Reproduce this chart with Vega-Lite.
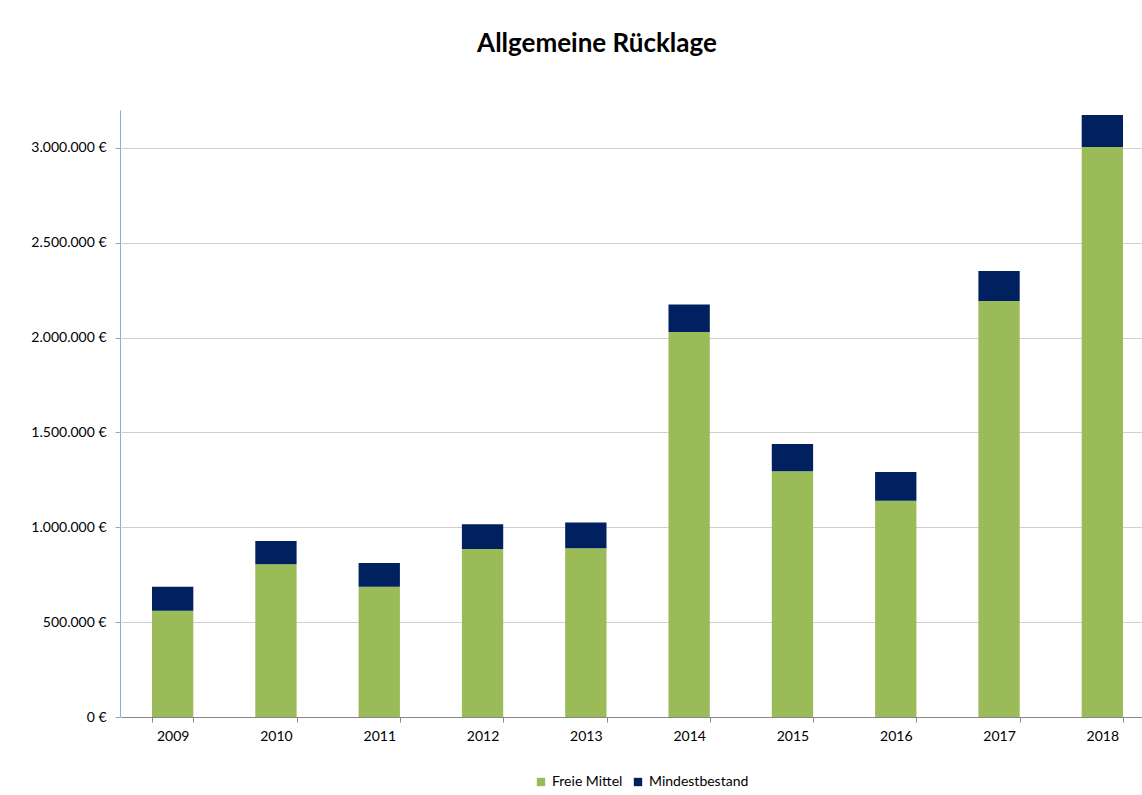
{
  "$schema": "https://vega.github.io/schema/vega-lite/v6.json",
  "autosize": {"type": "none"},
  "width": 1022,
  "height": 607,
  "padding": {"left": 120, "top": 110, "right": 0, "bottom": 78},
  "background": "white",
  "config": {
    "locale": {"number": {"decimal": ",", "thousands": ".", "grouping": [3], "currency": ["", " €"]}},
    "font": "Lato",
    "view": {"stroke": null}
  },
  "title": {
    "text": "Allgemeine Rücklage",
    "fontSize": 26,
    "fontWeight": "bold",
    "font": "Lato",
    "color": "#000000",
    "anchor": "middle",
    "baseline": "alphabetic",
    "offset": 32,
    "dx": -34
  },
  "data": {
    "values": [
      {"jahr": "2009", "serie": "Freie Mittel", "wert": 560000},
      {"jahr": "2009", "serie": "Mindestbestand", "wert": 127000},
      {"jahr": "2010", "serie": "Freie Mittel", "wert": 805000},
      {"jahr": "2010", "serie": "Mindestbestand", "wert": 123000},
      {"jahr": "2011", "serie": "Freie Mittel", "wert": 687000},
      {"jahr": "2011", "serie": "Mindestbestand", "wert": 125000},
      {"jahr": "2012", "serie": "Freie Mittel", "wert": 886000},
      {"jahr": "2012", "serie": "Mindestbestand", "wert": 130000},
      {"jahr": "2013", "serie": "Freie Mittel", "wert": 889000},
      {"jahr": "2013", "serie": "Mindestbestand", "wert": 137000},
      {"jahr": "2014", "serie": "Freie Mittel", "wert": 2030000},
      {"jahr": "2014", "serie": "Mindestbestand", "wert": 144000},
      {"jahr": "2015", "serie": "Freie Mittel", "wert": 1295000},
      {"jahr": "2015", "serie": "Mindestbestand", "wert": 144000},
      {"jahr": "2016", "serie": "Freie Mittel", "wert": 1140000},
      {"jahr": "2016", "serie": "Mindestbestand", "wert": 152000},
      {"jahr": "2017", "serie": "Freie Mittel", "wert": 2193000},
      {"jahr": "2017", "serie": "Mindestbestand", "wert": 158000},
      {"jahr": "2018", "serie": "Freie Mittel", "wert": 3005000},
      {"jahr": "2018", "serie": "Mindestbestand", "wert": 169000}
    ]
  },
  "mark": {"type": "bar"},
  "encoding": {
    "x": {
      "field": "jahr",
      "type": "ordinal",
      "scale": {"range": [1, 1034], "paddingInner": 0.6, "paddingOuter": 0.3},
      "axis": {
        "title": null,
        "labelAngle": 0,
        "labelFontSize": 14,
        "labelColor": "#000000",
        "labelPadding": 7,
        "tickBand": "extent",
        "tickSize": 5,
        "tickColor": "#868686",
        "domainColor": "#868686",
        "grid": false
      }
    },
    "y": {
      "field": "wert",
      "type": "quantitative",
      "stack": "zero",
      "scale": {"domain": [0, 3200000], "nice": false},
      "axis": {
        "title": null,
        "values": [0, 500000, 1000000, 1500000, 2000000, 2500000, 3000000],
        "format": "$,.0f",
        "labelFontSize": 14,
        "labelColor": "#000000",
        "labelPadding": 9,
        "tickSize": 5,
        "tickColor": "#8eaadb",
        "domainColor": "#8eaadb",
        "grid": true,
        "gridColor": "#d0d0d0",
        "gridWidth": 1
      }
    },
    "order": {"field": "serie", "sort": "ascending"},
    "color": {
      "field": "serie",
      "type": "nominal",
      "scale": {"domain": ["Freie Mittel", "Mindestbestand"], "range": ["#9bbb59", "#002060"]},
      "legend": {
        "title": null,
        "orient": "none",
        "direction": "horizontal",
        "legendX": 414,
        "legendY": 665,
        "symbolType": "square",
        "symbolSize": 70,
        "symbolStrokeWidth": 0,
        "labelFontSize": 14,
        "labelColor": "#000000",
        "labelOffset": 4,
        "columnPadding": 8
      }
    }
  }
}
